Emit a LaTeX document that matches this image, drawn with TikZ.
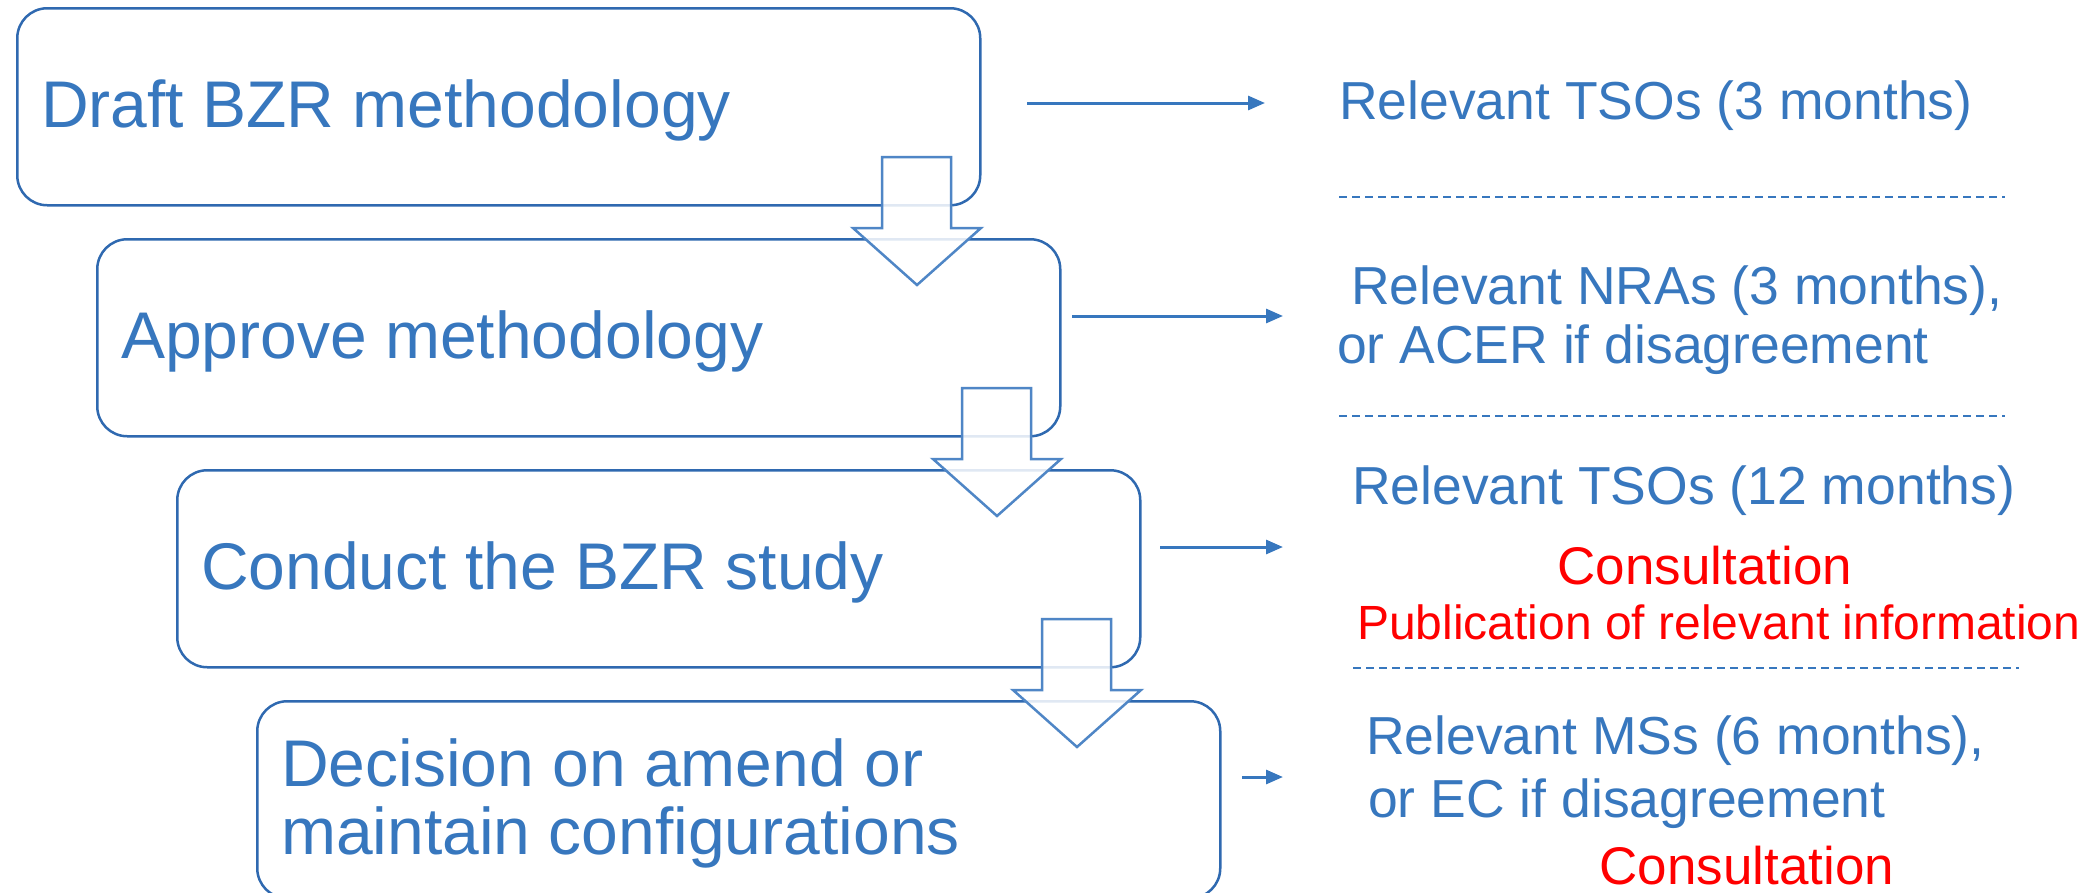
\documentclass[tikz,border=0pt]{standalone}
\usepackage{fontspec}
\setmainfont{Liberation Sans}
\usetikzlibrary{arrows.meta}
\definecolor{tblue}{HTML}{3777BE}
\definecolor{bblue}{HTML}{2F69B0}
\definecolor{ablue}{HTML}{4F86C6}
\definecolor{tred}{HTML}{FF0000}
\begin{document}
\begin{tikzpicture}[x=1pt,y=-1pt,
 box/.style={draw=bblue, line width=2.5pt, rounded corners=30pt, fill=white, minimum width=963pt, minimum height=197pt, anchor=north west, inner sep=0pt},
 boxtext/.style={anchor=base west, inner sep=0pt, text=tblue, font=\fontsize{66}{68}\selectfont},
 side/.style={anchor=base west, inner sep=0pt, text=tblue, font=\fontsize{53.5}{59}\selectfont},
 redtext/.style={anchor=base, inner sep=0pt, text=tred, font=\fontsize{53}{59}\selectfont},
 redsmall/.style={anchor=base west, inner sep=0pt, text=tred, font=\fontsize{48}{52}\selectfont},
 flow/.style={draw=ablue, line width=2.5pt, fill=white, fill opacity=0.85, line join=miter},
 link/.style={draw=tblue, line width=3pt, -{Triangle[length=17pt,width=14pt]}},
 sep/.style={draw=tblue, line width=2pt, dash pattern=on 8pt off 5pt}]
\useasboundingbox (0,0) rectangle (2089,892);
\begin{scope}
\clip (0,0) rectangle (2089,892);
% boxes
\node[box] (b1) at (16,7) {};
\node[box] (b2) at (96,238) {};
\node[box] (b3) at (176,469) {};
\node[box] (b4) at (256,700) {};
% down arrows
\foreach \k in {0,1,2}{
  \begin{scope}[shift={(80*\k,231*\k)}]
  \draw[flow] (882,157) -- (951,157) -- (951,228) -- (981,228) -- (917,285) -- (853,228) -- (882,228) -- cycle;
  \end{scope}
}
\end{scope}
% box texts
\node[boxtext] (t1) at (41,127) {Draft BZR methodology};
\node[boxtext] (t2) at (121,358) {Approve methodology};
\node[boxtext] (t3) at (201,589) {Conduct the BZR study};
\node[boxtext] (t4a) at (281,786) {Decision on amend or};
\node[boxtext] (t4b) at (281,854) {maintain configurations};
% horizontal arrows
\coordinate (s1) at (1027,103); \coordinate (e1) at (1265,103);
\coordinate (s2) at (1072,316); \coordinate (e2) at (1283,316);
\coordinate (s3) at (1160,547); \coordinate (e3) at (1283,547);
\coordinate (s4) at (1242,777); \coordinate (e4) at (1283,777);
\draw[link] (s1) -- (e1);
\draw[link] (s2) -- (e2);
\draw[link] (s3) -- (e3);
\draw[link] (s4) -- (e4);
% right-hand texts
\node[side] (r1) at (1339,119) {Relevant TSOs (3 months)};
\node[side] (r2a) at (1351,304) {Relevant NRAs (3 months),};
\node[side] (r2b) at (1337,363) {or ACER if disagreement};
\node[side] (r3) at (1352,504) {Relevant TSOs (12 months)};
\node[redtext] (c1) at (1705,584) {Consultation};
\node[redsmall] (p1) at (1357,639) {Publication of relevant information};
\node[side] (r4a) at (1366,754) {Relevant MSs (6 months),};
\node[side] (r4b) at (1368,817) {or EC if disagreement};
\node[redtext] (c2) at (1747,884) {Consultation};
% dashed separators
\coordinate (d1a) at (1339,197); \coordinate (d1b) at (2005,197);
\coordinate (d2a) at (1339,416); \coordinate (d2b) at (2005,416);
\coordinate (d3a) at (1353,668); \coordinate (d3b) at (2019,668);
\draw[sep] (d1a) -- (d1b);
\draw[sep] (d2a) -- (d2b);
\draw[sep] (d3a) -- (d3b);
\end{tikzpicture}
\end{document}
